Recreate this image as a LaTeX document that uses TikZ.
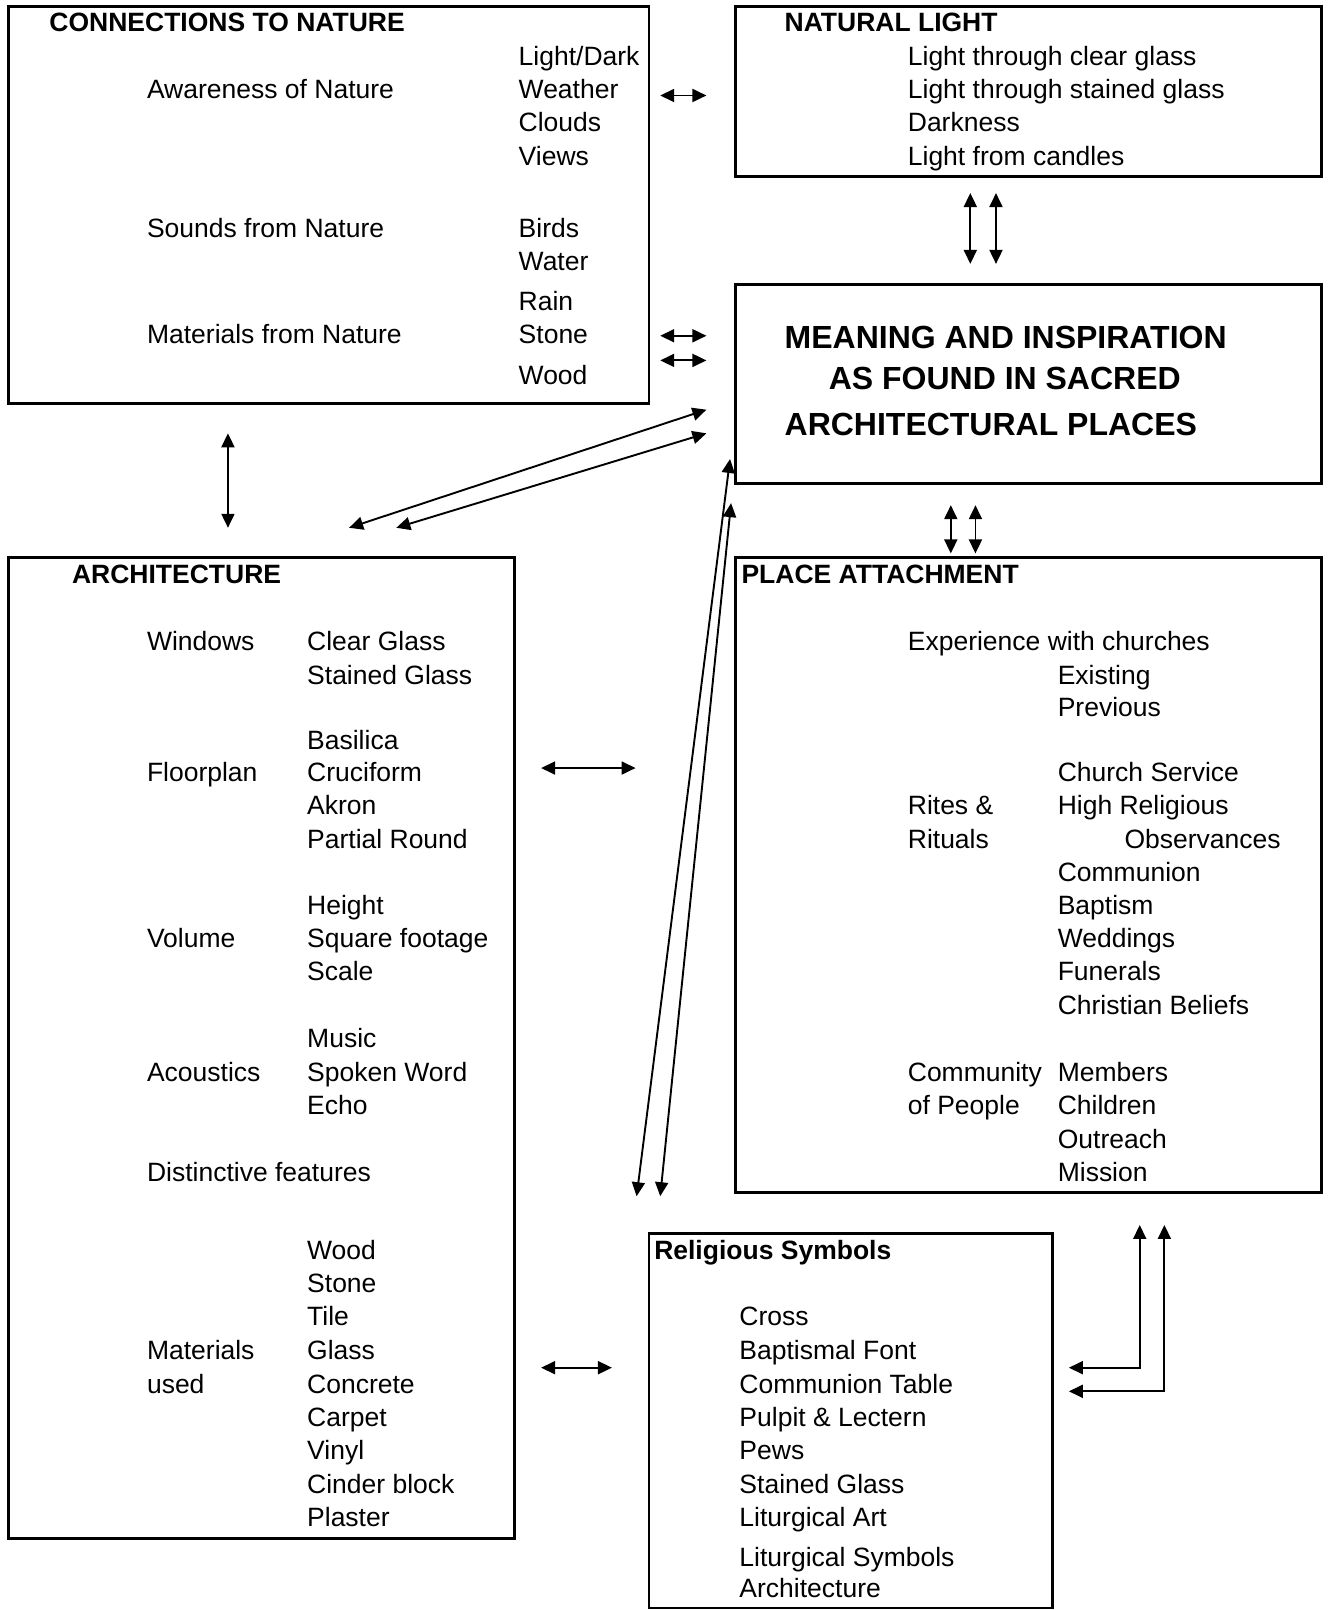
\documentclass[tikz,border=0pt]{standalone}
\usepackage{fontspec}
\setmainfont{Liberation Sans}
\usetikzlibrary{arrows.meta,fit}

\begin{document}
\begin{tikzpicture}
[x=1.027pt,y=-1.027pt,%
  boxdecorate/.style={draw,line width=2.8pt,inner sep=0pt},%
  textdecorate/.style={anchor=base west,inner sep=0pt,yshift=-9.5pt,font=\fontsize{26.5}{32}\selectfont},%
  headdecorate/.style={textdecorate,font=\fontsize{26.5}{32}\selectfont\bfseries},%
  titledecorate/.style={anchor=base west,inner sep=0pt,yshift=-11.5pt,font=\fontsize{32}{38}\selectfont\bfseries},%
  arrowdecorate/.style={{Triangle[length=14pt,width=13pt]}-{Triangle[length=14pt,width=13pt]},line width=1.9pt}]
\useasboundingbox (0,0) rectangle (1295,1568);
%% boxes, given by their corners
\foreach \nodename/\xa/\ya/\xb/\yb in {
nature/8/6/632/393, light/716/6/1287/172, meaning/716/277/1287/471,
archi/8/543/501/1498, place/716/543/1287/1161, symbols/632/1201/1025/1566}
{
  \node (\nodename) [boxdecorate,fit={(\xa,\ya) (\xb,\yb)}] {};
}
%% box headings
\foreach \nodename/\x/\y/\txt in {
hnat/48/21/CONNECTIONS TO NATURE, hlig/764/21/NATURAL LIGHT,
harc/70/559/ARCHITECTURE, hpla/722/559/PLACE ATTACHMENT,
hsym/637/1217/Religious Symbols}
{
  \node (\nodename) at (\x,\y) [headdecorate] {\txt};
}
%% centre box
\foreach \nodename/\x/\y/\txt in {
m1/764/328/MEANING AND INSPIRATION, m2/807/368/AS FOUND IN SACRED,
m3/764/413/ARCHITECTURAL PLACES}
{
  \node (\nodename) at (\x,\y) [titledecorate] {\txt};
}
%% entries of the boxes
\foreach \nodename/\x/\y/\txt in {
aw/143/87/Awareness of Nature, so/143/222/Sounds from Nature, ma/143/325/Materials from Nature,
ld/505/55/{Light/Dark}, we/505/87/Weather, cl/505/119/Clouds, vi/505/152/Views,
bi/505/222/Birds, wa/505/254/Water, ra/505/293/Rain, st/505/325/Stone, wo/505/365/Wood,
lc/884/55/Light through clear glass, ls/884/87/Light through stained glass,
da/884/119/Darkness, lf/884/152/Light from candles,
wi/143/624/Windows, fl/143/752/Floorplan, vo/143/914/Volume, ac/143/1044/Acoustics,
di/143/1141/Distinctive features, mu1/143/1315/Materials, mu2/143/1348/used,
cg/299/624/Clear Glass, sg/299/657/Stained Glass,
ba/299/721/Basilica, cr/299/752/Cruciform, ak/299/784/Akron, pr/299/817/Partial Round,
he/299/881/Height, sf/299/914/Square footage, sc/299/946/Scale,
mi/299/1011/Music, sw/299/1044/Spoken Word, ec/299/1076/Echo,
awo/299/1217/Wood, ast/299/1250/Stone, ati/299/1282/Tile, agl/299/1315/Glass,
aco/299/1348/Concrete, aca/299/1380/Carpet, avi/299/1412/Vinyl,
aci/299/1445/Cinder block, apl/299/1477/Plaster,
ex/884/624/Experience with churches, exi/1030/657/Existing, pre/1030/689/Previous,
ri1/884/784/Rites \&, ri2/884/817/Rituals,
cs/1030/752/Church Service, hr/1030/784/High Religious, ob/1095/817/Observances,
com/1030/849/Communion, bap/1030/881/Baptism, wed/1030/914/Weddings,
fun/1030/946/Funerals, cb/1030/979/Christian Beliefs,
cp1/884/1044/Community, cp2/884/1076/of People,
mem/1030/1044/Members, chi/1030/1076/Children, out/1030/1109/Outreach, mis/1030/1141/Mission,
cro/720/1282/Cross, bf/720/1315/Baptismal Font, ct/720/1348/Communion Table,
pl/720/1380/Pulpit \& Lectern, pe/720/1412/Pews, rsg/720/1445/Stained Glass,
la/720/1477/Liturgical Art, lsy/720/1516/Liturgical Symbols, rar/720/1547/Architecture}
{
  \node (\nodename) at (\x,\y) [textdecorate] {\txt};
}
%% free ends of the arrows
\foreach \nodename/\x/\y in {
nl1/643/93, nl2/688/93,
nm1/643/327, mn1/688/327, nm2/643/351, mn2/688/351,
lm1/945/188, ml1/945/257, lm2/970/188, ml2/970/257,
na/222/422, an/222/514,
am1/340/514, ma1/688/399, am2/386/514, ma2/688/422,
mp1/926/492, pm1/926/539, mp2/950/492, pm2/950/539,
sm1/620/1165, ms1/711/447, sm2/643/1165, ms2/712/490,
ar1/527/748, pa1/619/748,
ar2/527/1332, sy2/596/1332,
ps1/1110/1193, sp1/1041/1332, ps2/1134/1193, sp2/1041/1355}
{
  \coordinate (\nodename) at (\x,\y);
}
%% arrows
\path
\foreach \startnode/\endnode in {
nl1/nl2, nm1/mn1, nm2/mn2, lm1/ml1, lm2/ml2, na/an, am1/ma1, am2/ma2,
mp1/pm1, mp2/pm2, sm1/ms1, sm2/ms2, ar1/pa1, ar2/sy2}
{
  (\startnode) edge[arrowdecorate] (\endnode)
};
\draw[arrowdecorate] (ps1) |- (sp1);
\draw[arrowdecorate] (ps2) |- (sp2);
\end{tikzpicture}
\end{document}
